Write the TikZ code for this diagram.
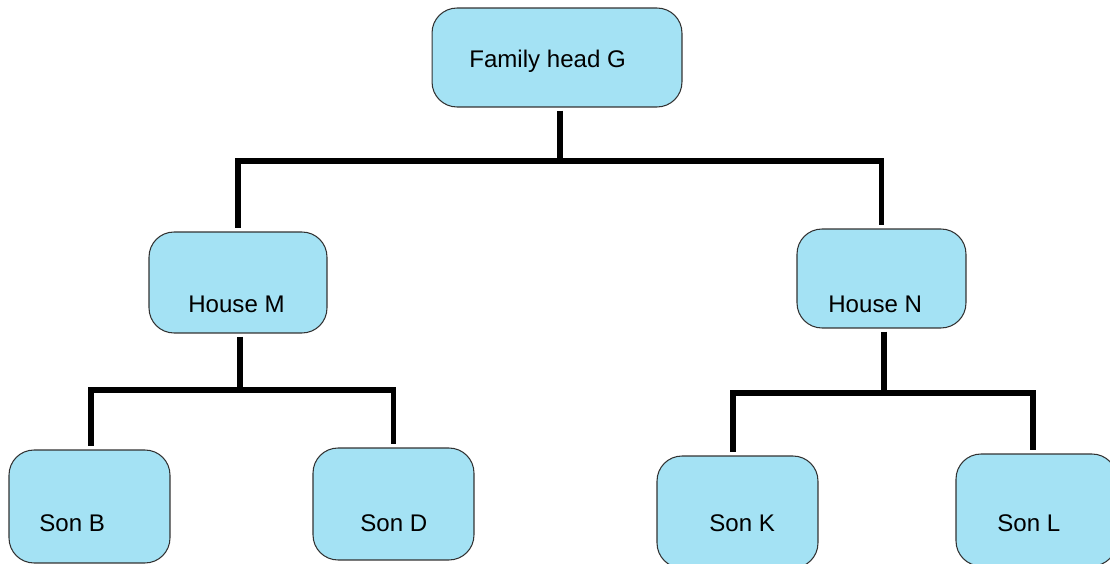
\documentclass[tikz,border=0pt]{standalone}
\usepackage{fontspec}
\setmainfont{Liberation Sans}
\usepackage{tikz}
\usepackage{xcolor}

\definecolor{boxblue}{RGB}{164,226,244}
\definecolor{boxline}{RGB}{50,50,50}

\tikzset{
  box/.style={draw=boxline, line width=0.6pt, fill=boxblue, rounded corners=0.5cm,
    inner sep=0pt, outer sep=0pt},
  boxtext/.style={anchor=base west, inner sep=0pt, font=\fontsize{13.7}{16}\selectfont},
  link/.style={line width=0.11cm, shorten <=0.08cm, shorten >=0.08cm}
}

\begin{document}
\begin{tikzpicture}[x=0.02cm, y=-0.02cm]
    \useasboundingbox (0,0) rectangle (1110,564);

    % Family head
    \node[box, minimum width=5cm, minimum height=1.98cm] (G) at (557,57.5) {};
    \node[boxtext] (G-text) at (469,68) {Family head G};

    % Houses
    \node[box, minimum width=3.56cm, minimum height=2.02cm] (M) at (238,282.5) {};
    \node[boxtext] (M-text) at (188,313) {House M};
    \node[box, minimum width=3.38cm, minimum height=1.98cm] (N) at (881.5,278.5) {};
    \node[boxtext] (N-text) at (828,313) {House N};

    % Sons
    \node[box, minimum width=3.22cm, minimum height=2.26cm] (B) at (89.5,506.5) {};
    \node[boxtext] (B-text) at (39,531) {Son B};
    \node[box, minimum width=3.22cm, minimum height=2.24cm] (D) at (393.5,504) {};
    \node[boxtext] (D-text) at (360,531) {Son D};
    \node[box, minimum width=3.22cm, minimum height=2.24cm] (K) at (737.5,512) {};
    \node[boxtext] (K-text) at (709,531) {Son K};
    \node[box, minimum width=3.22cm, minimum height=2.24cm] (L) at (1036.5,510) {};
    \node[boxtext] (L-text) at (997,531) {Son L};

    % Connectors
    \draw[link] ([xshift=0.06cm]G.south) -- ++(0,54) -| (M.north);
    \draw[link] ([xshift=0.06cm]G.south) -- ++(0,54) -| (N.north);
    \draw[link] ([xshift=0.04cm]M.south) -- ++(0,57) -| ([xshift=0.03cm]B.north);
    \draw[link] ([xshift=0.04cm]M.south) -- ++(0,57) -| (D.north);
    \draw[link] ([xshift=0.05cm]N.south) -- ++(0,65) -| ([xshift=-0.09cm]K.north);
    \draw[link] ([xshift=0.05cm]N.south) -- ++(0,65) -| ([xshift=-0.07cm]L.north);
\end{tikzpicture}
\end{document}
